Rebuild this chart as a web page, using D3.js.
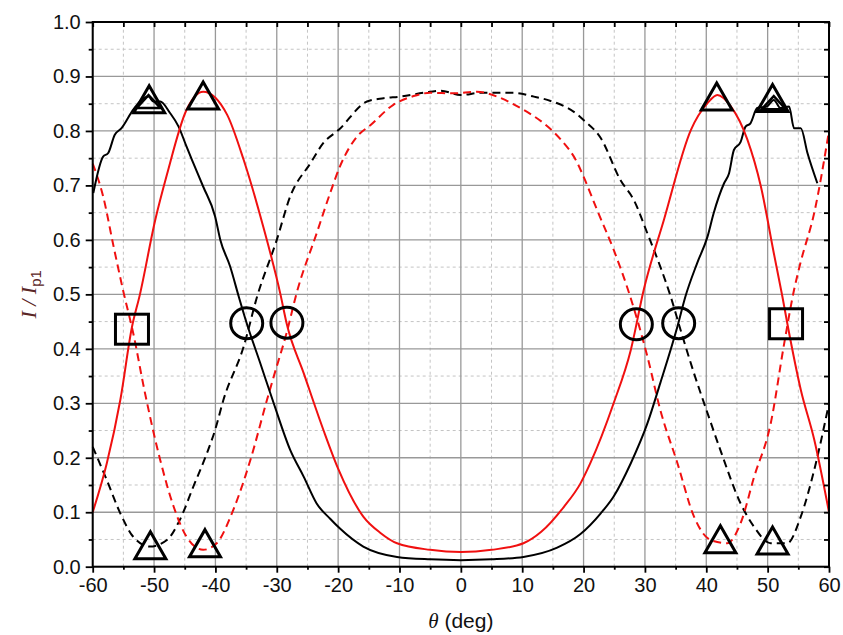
<!DOCTYPE html>
<html>
<head>
<meta charset="utf-8">
<script src="https://cdn.jsdelivr.net/npm/d3@7/dist/d3.min.js"></script>
<style>
  body { margin: 0; background: #fff; }
  svg { display: block; }
</style>
</head>
<body>
<div id="chart"></div>
<script>
// curves: [theta (deg), I/Ip1]
var blackSolid = [[-59.9,0.686],[-58.3,0.753],[-57.5,0.759],[-56.4,0.793],[-55.3,0.805],[-53.4,0.839],[-52.3,0.854],[-50.9,0.863],[-50.1,0.854],[-49,0.854],[-47.4,0.833],[-46,0.808],[-44.7,0.771],[-43.6,0.741],[-42,0.698],[-40.05,0.643],[-39.2,0.6],[-37.6,0.551],[-36.2,0.496],[-34.9,0.447],[-32.7,0.374],[-30.5,0.3],[-27.8,0.214],[-25.6,0.165],[-23.5,0.116],[-21.3,0.088],[-19.7,0.07],[-15.9,0.037],[-10.4,0.018],[-5,0.0135],[0,0.012],[5,0.0135],[10.2,0.018],[15.7,0.035],[19.5,0.06],[22.8,0.098],[24.9,0.129],[27.7,0.19],[30.4,0.263],[32.5,0.337],[35.3,0.441],[36.6,0.496],[38.5,0.557],[40.2,0.606],[41.2,0.649],[42.9,0.704],[43.7,0.722],[44.5,0.765],[45.6,0.78],[46.4,0.808],[47.2,0.814],[48.3,0.842],[49.9,0.845],[51,0.857],[52.1,0.842],[53.5,0.845],[54.3,0.805],[55.4,0.805],[56.5,0.759],[58.1,0.704]];
var redSolid = [[-60,0.1],[-57.7,0.19],[-55.5,0.306],[-53.6,0.44],[-52.3,0.5],[-49.8,0.637],[-47.9,0.72],[-44.7,0.839],[-42,0.872],[-38.1,0.83],[-35.4,0.747],[-32.2,0.624],[-29.4,0.5],[-28.4,0.447],[-25.6,0.355],[-22.4,0.251],[-20,0.18],[-15.9,0.092],[-13.1,0.062],[-10.4,0.043],[-5,0.031],[0,0.027],[5,0.031],[10.2,0.043],[13.1,0.064],[16.8,0.11],[19.5,0.153],[21.1,0.19],[24.9,0.3],[27.7,0.398],[29.8,0.508],[33.1,0.637],[37.5,0.802],[40.2,0.851],[41.8,0.866],[44,0.845],[46.7,0.784],[48.9,0.698],[51,0.576],[52.4,0.496],[53.2,0.447],[55.4,0.325],[57.6,0.233],[60,0.1]];
var blackDashed = [[-60,0.22],[-57.7,0.159],[-55.5,0.098],[-53.4,0.055],[-50.7,0.037],[-47.9,0.049],[-45.8,0.086],[-43.6,0.147],[-41.4,0.208],[-40.05,0.251],[-38.7,0.306],[-35.4,0.404],[-33.2,0.496],[-30,0.6],[-27.8,0.68],[-24.5,0.741],[-22.4,0.778],[-19.9,0.802],[-15.3,0.854],[-12.6,0.86],[-9.9,0.863],[-6.1,0.87],[-3.3,0.874],[0,0.866],[3.3,0.87],[8.6,0.87],[11.9,0.863],[14.1,0.857],[19,0.83],[20,0.82],[22.8,0.787],[26,0.71],[28.2,0.673],[30.4,0.612],[32.5,0.551],[34.2,0.496],[35.8,0.435],[38,0.355],[40.2,0.282],[42.3,0.214],[45.6,0.116],[47.8,0.073],[50.5,0.043],[53.2,0.043],[55.4,0.092],[57.6,0.178],[60,0.3]];
var redDashed = [[-60,0.74],[-58.3,0.68],[-56.6,0.588],[-55,0.505],[-53.4,0.429],[-51.5,0.32],[-49,0.196],[-46.8,0.11],[-44.7,0.055],[-42,0.031],[-39.8,0.043],[-37.1,0.104],[-34.3,0.196],[-31.6,0.306],[-30.5,0.349],[-28.4,0.429],[-26.7,0.505],[-23.5,0.612],[-21.3,0.686],[-19.7,0.735],[-16.9,0.79],[-14.7,0.811],[-11,0.848],[-7.7,0.864],[-5,0.87],[-1.2,0.869],[2.6,0.872],[5.9,0.863],[9.7,0.842],[13.5,0.814],[16.3,0.784],[19,0.741],[20,0.716],[22.2,0.655],[24.9,0.582],[27.6,0.496],[30.4,0.386],[32.5,0.288],[35.3,0.19],[38,0.092],[40.7,0.049],[43.4,0.043],[45.6,0.08],[47.8,0.165],[50.5,0.263],[52.7,0.41],[54.3,0.508],[55.4,0.56],[57.6,0.65],[60,0.8]];

// open markers
var triangles = [[-50.8,0.85],[-42,0.857],[41.7,0.855],[50.8,0.852],[-50.6,0.031],[-41.7,0.035],[42.3,0.042],[50.8,0.04]];
var smallTriangles = [[-50.9,0.85],[51,0.848]];
var circles = [[-34.9,0.447],[-28.35,0.448],[28.6,0.445],[35.5,0.447]];
var squares = [[-53.6,0.436],[53,0.446]];

var xTicks = [-60,-50,-40,-30,-20,-10,0,10,20,30,40,50,60];
var yTicks = [0,0.1,0.2,0.3,0.4,0.5,0.6,0.7,0.8,0.9,1.0];

var width = 843, height = 635;
var margin = {top: 22, right: 14, bottom: 68.3, left: 92.7};

var svg = d3.select('#chart').append('svg')
  .attr('width', width)
  .attr('height', height);

var x = d3.scaleLinear().domain([-60, 60]).range([margin.left, width - margin.right]);
var y = d3.scaleLinear().domain([0, 1]).range([height - margin.bottom, margin.top]);

var xMinor = d3.range(-55, 60, 10);
var yMinor = d3.range(0.05, 1, 0.1);

// grid
var grid = svg.append('g');
grid.selectAll('.vminor').data(xMinor).enter().append('line')
  .attr('x1', d => x(d)).attr('x2', d => x(d))
  .attr('y1', y(0)).attr('y2', y(1))
  .attr('stroke', '#c4c4c4').attr('stroke-width', 1).attr('stroke-dasharray', '3,3');
grid.selectAll('.hminor').data(yMinor).enter().append('line')
  .attr('y1', d => y(d)).attr('y2', d => y(d))
  .attr('x1', x(-60)).attr('x2', x(60))
  .attr('stroke', '#c4c4c4').attr('stroke-width', 1).attr('stroke-dasharray', '3,3');
grid.selectAll('.vmajor').data(xTicks).enter().append('line')
  .attr('x1', d => x(d)).attr('x2', d => x(d))
  .attr('y1', y(0)).attr('y2', y(1))
  .attr('stroke', '#999').attr('stroke-width', 1.3);
grid.selectAll('.hmajor').data(yTicks).enter().append('line')
  .attr('y1', d => y(d)).attr('y2', d => y(d))
  .attr('x1', x(-60)).attr('x2', x(60))
  .attr('stroke', '#999').attr('stroke-width', 1.3);

// curves
var line = d3.line().curve(d3.curveMonotoneX).x(d => x(d[0])).y(d => y(d[1]));
var plot = svg.append('g');
plot.append('path').datum(blackDashed).attr('d', line)
  .attr('fill', 'none').attr('stroke', '#000').attr('stroke-width', 2).attr('stroke-dasharray', '8,5');
plot.append('path').datum(redDashed).attr('d', line)
  .attr('fill', 'none').attr('stroke', '#f01010').attr('stroke-width', 2).attr('stroke-dasharray', '8,5');
plot.append('path').datum(blackSolid).attr('d', line)
  .attr('fill', 'none').attr('stroke', '#000').attr('stroke-width', 2);
plot.append('path').datum(redSolid).attr('d', line)
  .attr('fill', 'none').attr('stroke', '#f01010').attr('stroke-width', 2);

// markers
function triPath(w, h) {
  return 'M0,' + (-2 * h / 3) + 'L' + (w / 2) + ',' + (h / 3) + 'L' + (-w / 2) + ',' + (h / 3) + 'Z';
}
var marks = svg.append('g').attr('fill', 'none').attr('stroke', '#000').attr('stroke-width', 3);
marks.selectAll('.tri').data(triangles).enter().append('path')
  .attr('transform', d => 'translate(' + x(d[0]) + ',' + y(d[1]) + ')')
  .attr('d', triPath(31, 27));
marks.selectAll('.tri2').data(smallTriangles).enter().append('path')
  .attr('transform', d => 'translate(' + x(d[0]) + ',' + y(d[1]) + ')')
  .attr('stroke-width', 2.5)
  .attr('d', triPath(24, 13));
marks.selectAll('.circ').data(circles).enter().append('ellipse')
  .attr('cx', d => x(d[0])).attr('cy', d => y(d[1]))
  .attr('rx', 16).attr('ry', 15.5);
marks.selectAll('.sq').data(squares).enter().append('rect')
  .attr('x', d => x(d[0]) - 16.5).attr('y', d => y(d[1]) - 15)
  .attr('width', 33).attr('height', 30);

// axes
var font = '"Liberation Sans", Arial, sans-serif';
function styleAxis(g) {
  g.select('.domain').remove();
  g.selectAll('.tick line').attr('stroke', '#000').attr('stroke-width', 1.8);
  g.selectAll('text').attr('font-family', font).attr('font-size', 20).attr('fill', '#111');
}
var xAxis = svg.append('g').attr('transform', 'translate(0,' + y(0) + ')')
  .call(d3.axisBottom(x).tickValues(xTicks).tickSize(6).tickPadding(5).tickFormat(d => String(d)));
styleAxis(xAxis);
var xMinorAxis = svg.append('g').attr('transform', 'translate(0,' + y(0) + ')')
  .call(d3.axisBottom(x).tickValues(xMinor).tickSize(3).tickFormat(''));
styleAxis(xMinorAxis);
var yAxis = svg.append('g').attr('transform', 'translate(' + x(-60) + ',0)')
  .call(d3.axisLeft(y).tickValues(yTicks).tickSize(7).tickPadding(5).tickFormat(d => d.toFixed(1)));
styleAxis(yAxis);
var yMinorAxis = svg.append('g').attr('transform', 'translate(' + x(-60) + ',0)')
  .call(d3.axisLeft(y).tickValues(yMinor).tickSize(4).tickFormat(''));
styleAxis(yMinorAxis);
var topAxis = svg.append('g').attr('transform', 'translate(0,' + y(1) + ')')
  .call(d3.axisTop(x).tickValues(xTicks.concat(xMinor)).tickSize(-5).tickFormat(''));
styleAxis(topAxis);
var rightAxis = svg.append('g').attr('transform', 'translate(' + x(60) + ',0)')
  .call(d3.axisRight(y).tickValues(yTicks.concat(yMinor)).tickSize(-5).tickFormat(''));
styleAxis(rightAxis);

// frame
svg.append('rect')
  .attr('x', x(-60)).attr('y', y(1))
  .attr('width', x(60) - x(-60)).attr('height', y(0) - y(1))
  .attr('fill', 'none').attr('stroke', '#000').attr('stroke-width', 2);

// axis titles
var xt = svg.append('text')
  .attr('x', (x(-60) + x(60)) / 2).attr('y', 628)
  .attr('text-anchor', 'middle')
  .attr('font-family', font).attr('font-size', 21).attr('fill', '#111');
xt.append('tspan').attr('font-family', '"Liberation Serif", "Times New Roman", serif').attr('font-style', 'italic').text('θ');
xt.append('tspan').text(' (deg)');

var yt = svg.append('text')
  .attr('transform', 'translate(36,' + ((y(0) + y(1)) / 2) + ') rotate(-90)')
  .attr('text-anchor', 'middle')
  .attr('font-family', '"Liberation Serif", "Times New Roman", serif')
  .attr('font-size', 22).attr('fill', '#5a2626');
yt.append('tspan').attr('font-style', 'italic').text('I / I');
yt.append('tspan').attr('font-family', font).attr('font-size', 15).attr('dy', 5).text('p1');
</script>
</body>
</html>
